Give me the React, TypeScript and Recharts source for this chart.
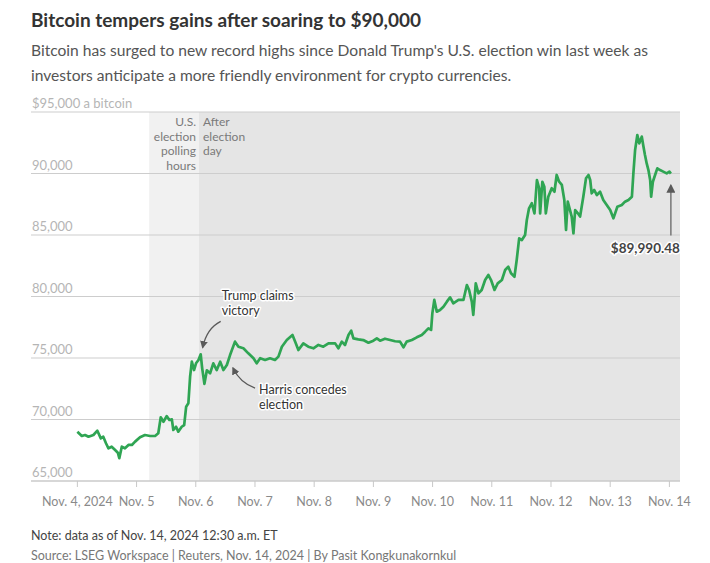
import React from 'react';
import { LineChart, Line, XAxis, YAxis, ReferenceArea, ReferenceLine, ReferenceDot } from 'recharts';

// hours after Nov. 4, 2024 00:00 ET
const hours = [
  0, 1.8, 3.1, 4.5, 6.5, 8.1, 9.5, 10.5, 11.6, 12.6, 13.9, 15.3, 16.4, 17.0, 18.0, 19.3, 20.7, 22.1, 23.4,
  25.4, 27.4, 29.5, 31.5, 32.8, 33.8, 34.9, 36.2, 37.3, 38.3, 38.9, 40.0, 40.9, 42.3, 43.3, 44.1, 45.0,
  45.7, 46.4, 47.3, 48.1, 49.1, 50.0, 50.6, 51.5, 52.5, 53.8, 55.1, 56.5, 57.9, 59.2, 60.6, 61.9, 63.9,
  65.3, 67.3, 69.3, 71.4, 72.7, 74.1, 76.1, 78.1, 80.1, 81.5, 82.9, 84.9, 87.2, 88.3, 89.6, 91.6, 93.6,
  95.7, 97.7, 99.7, 101.8, 104.5, 105.8, 107.2, 108.5, 109.9, 111.0, 111.9, 113.9, 115.9, 118.0, 120.0,
  121.4, 122.7, 124.7, 126.8, 128.8, 130.8, 132.2, 133.5, 135.6, 137.6, 139.6, 141.0, 142.3, 143.4, 143.9,
  144.7, 145.7, 147.0, 148.4, 149.8, 151.1, 152.4, 154.5, 156.5, 157.9, 158.8, 159.9, 160.5, 161.5, 162.6,
  163.9, 165.3, 166.6, 167.7, 169.1, 170.4, 172.1, 173.4, 174.7, 175.8, 177.2, 178.1, 179.1, 180.2, 181.5,
  182.2, 183.1, 184.2, 185.3, 186.3, 187.2, 187.6, 188.5, 189.3, 189.9, 190.9, 192.3, 193.4, 194.3, 195.3,
  196.4, 197.4, 198.1, 198.8, 199.7, 200.4, 201.1, 201.8, 202.9, 203.8, 205.1, 206.2, 207.2, 207.9, 208.5,
  209.5, 210.6, 211.9, 213.2, 214.6, 216.0, 217.3, 218.0, 218.9, 220.7, 222.0, 223.4, 224.8, 225.4, 226.1,
  227.0, 227.8, 228.8, 229.5, 230.1, 230.8, 231.5, 232.2, 232.6, 233.3, 234.2, 235.1, 236.2, 237.5, 238.9,
  240.0, 240.6,
];

const prices = [
  69010, 68660, 68740, 68600, 68740, 69090, 68470, 68600, 68070, 67660, 67790, 67520, 67300, 66850, 67790, 67660, 67930, 67930, 68200,
  68550, 68740, 68660, 68660, 68880, 70180, 69820, 70280, 69960, 70010, 69150, 69410, 69010, 69410, 69550, 71040, 71320,
  73480, 74700, 74020, 74570, 74840, 75300, 74160, 72900, 74000, 73750, 74570, 74020, 74700, 74020, 74430, 75240, 76330,
  75920, 75790, 75380, 74980, 74570, 74980, 74840, 74980, 74840, 75110, 75920, 76460, 76870, 76330, 75650, 76190, 75920,
  75790, 76060, 75920, 76190, 76190, 75790, 76330, 76060, 76870, 77220, 76600, 76520, 76460, 76240, 76410,
  76600, 76410, 76570, 76460, 76360, 76330, 75870, 76330, 76460, 76680, 76870, 77140, 77410, 77280, 78630,
  79720, 78760, 78900, 79170, 79580, 79930, 79450, 79720, 79720, 80930, 80530, 79580, 78500, 81070, 80260,
  80530, 81340, 81750, 81340, 80530, 81070, 81340, 82150, 82420, 81890, 81610, 82970, 84730, 84590, 85000,
  86220, 87170, 87580, 86760, 89470, 88800, 86760, 89330, 88930, 86760, 88110, 88800, 88520, 89880, 89330,
  89070, 87850, 85410, 87710, 87030, 86490, 85140, 87030, 86760, 86500, 88110, 89610, 89880, 89470, 88390,
  88660, 88250, 88520, 87850, 87440, 87030, 86360, 86760, 87300, 87440, 87710, 87850, 88110, 90010, 91910,
  93130, 92450, 93000, 92180, 91500, 90820, 90280, 89470, 88110, 89330, 89880, 90420, 90280, 90150, 90010,
  90150, 89990.48,
];

const dayTicks = [0, 24, 48, 72, 96, 120, 144, 168, 192, 216, 240];
const dayLabels = ['Nov. 4, 2024', 'Nov. 5', 'Nov. 6', 'Nov. 7', 'Nov. 8', 'Nov. 9', 'Nov. 10', 'Nov. 11', 'Nov. 12', 'Nov. 13', 'Nov. 14'];
const priceTicks = [65000, 70000, 75000, 80000, 85000, 90000, 95000];

const pollOpen = 29.1;
const pollClose = 49.3;
const xMin = -18.8;
const xMax = 244.3;

const data = hours.map((h, i) => ({ h, price: prices[i] }));

const FONT = "Lato, 'Noto Sans', sans-serif";
const GREEN = '#2fa553';

const halo = { stroke: '#fff', strokeWidth: 3, paintOrder: 'stroke' as const, strokeLinejoin: 'round' as const };

function gridLabel(text: string) {
  return (props: any) => {
    const { x, y } = props.viewBox;
    return (
      <text x={x + 1} y={y - 4} fill="#b5b5b5" fontSize={13} fontFamily={FONT}>
        {text}
      </text>
    );
  };
}

function pollLabel(props: any) {
  const { x, y, width } = props.viewBox;
  const lines = ['U.S.', 'election', 'polling', 'hours'];
  return (
    <text x={x + width - 3} y={y + 14} textAnchor="end" fill="#7a7a7a" fontSize={12} fontFamily={FONT}>
      {lines.map((l, i) => (
        <tspan key={l} x={x + width - 3} dy={i === 0 ? 0 : 14.7}>{l}</tspan>
      ))}
    </text>
  );
}

function afterLabel(props: any) {
  const { x, y } = props.viewBox;
  const lines = ['After', 'election', 'day'];
  return (
    <text x={x + 4} y={y + 14} fill="#7a7a7a" fontSize={12} fontFamily={FONT}>
      {lines.map((l, i) => (
        <tspan key={l} x={x + 4} dy={i === 0 ? 0 : 14.7}>{l}</tspan>
      ))}
    </text>
  );
}

function marker(id: string) {
  return (
    <defs>
      <marker id={id} viewBox="0 0 10 10" refX="8" refY="5" markerWidth="6" markerHeight="6" orient="auto">
        <path d="M0,0 L10,5 L0,10 z" fill="#5a5a5a" />
      </marker>
    </defs>
  );
}

function TrumpNote(p: any) {
  const { cx, cy } = p;
  return (
    <g>
      {marker('ah-trump')}
      <path d={`M${cx + 20},${cy - 33} Q${cx + 6},${cy - 26} ${cx + 2},${cy - 7}`} stroke="#5a5a5a" strokeWidth={1.3} fill="none" markerEnd="url(#ah-trump)" />
      <text x={cx + 21} y={cy - 54} fill="#333" fontSize={12.5} fontFamily={FONT} style={halo}>
        <tspan x={cx + 21}>Trump claims</tspan>
        <tspan x={cx + 21} dy={15}>victory</tspan>
      </text>
    </g>
  );
}

function HarrisNote(p: any) {
  const { cx, cy } = p;
  return (
    <g>
      {marker('ah-harris')}
      <path d={`M${cx + 25},${cy + 33} Q${cx + 10},${cy + 28} ${cx + 3},${cy + 13}`} stroke="#5a5a5a" strokeWidth={1.3} fill="none" markerEnd="url(#ah-harris)" />
      <text x={cx + 29} y={cy + 39} fill="#333" fontSize={12.5} fontFamily={FONT} style={halo}>
        <tspan x={cx + 29}>Harris concedes</tspan>
        <tspan x={cx + 29} dy={15}>election</tspan>
      </text>
    </g>
  );
}

function LastNote(p: any) {
  const { cx, cy } = p;
  return (
    <g>
      {marker('ah-last')}
      <path d={`M${cx},${cy + 62} L${cx},${cy + 12}`} stroke="#777" strokeWidth={1.5} fill="none" markerEnd="url(#ah-last)" />
      <text x={cx + 9} y={cy + 79} textAnchor="end" fill="#444" fontSize={13.5} fontWeight={700} fontFamily={FONT} style={halo}>
        $89,990.48
      </text>
    </g>
  );
}

function XTick(props: any) {
  const { x, y, payload } = props;
  const i = dayTicks.indexOf(payload.value);
  return (
    <text x={x} y={y + 17} textAnchor="middle" fill="#8a8a8a" fontSize={12.5} fontFamily={FONT}>
      {dayLabels[i]}
    </text>
  );
}

export default function App() {
  return (
    <div style={{ position: 'absolute', left: 0, top: 0, width: 710, height: 563, background: '#fff', fontFamily: FONT }}>
      <div style={{ position: 'absolute', left: 31, top: 8, fontSize: 19, fontWeight: 700, color: '#333' }}>
        Bitcoin tempers gains after soaring to $90,000
      </div>
      <div style={{ position: 'absolute', left: 31, top: 38, width: 660, fontSize: 15.6, lineHeight: '25px', color: '#555' }}>
        Bitcoin has surged to new record highs since Donald Trump's U.S. election win last week as<br />
        investors anticipate a more friendly environment for crypto currencies.
      </div>
      <div style={{ position: 'absolute', left: 0, top: 0 }}>
        <LineChart width={710} height={520} data={data} margin={{ top: 112, right: 30, bottom: 9, left: 31 }}>
          <XAxis
            dataKey="h"
            type="number"
            domain={[xMin, xMax]}
            ticks={dayTicks}
            interval={0}
            allowDataOverflow
            height={30}
            stroke="#c8c8c8"
            tickLine={{ stroke: '#c8c8c8' }}
            tickSize={6}
            tick={<XTick />}
          />
          <YAxis hide domain={[65000, 95000]} ticks={priceTicks} allowDataOverflow />
          <ReferenceArea x1={pollOpen} x2={pollClose} y1={65000} y2={95000} fill="#f1f1f1" fillOpacity={1} stroke="none" label={pollLabel} />
          <ReferenceArea x1={pollClose} x2={xMax} y1={65000} y2={95000} fill="#e5e5e5" fillOpacity={1} stroke="none" label={afterLabel} />
          {priceTicks.map((t) => (
            <ReferenceLine
              key={t}
              y={t}
              stroke="#cdcdcd"
              strokeWidth={1}
              label={gridLabel(t === 95000 ? '$95,000 a bitcoin' : t.toLocaleString('en-US'))}
            />
          ))}
          <Line type="linear" dataKey="price" stroke={GREEN} strokeWidth={2.7} strokeLinejoin="round" dot={false} isAnimationActive={false} />
          <ReferenceDot x={hours[41]} y={prices[41]} r={0} shape={TrumpNote} ifOverflow="visible" />
          <ReferenceDot x={hours[51]} y={prices[51]} r={0} shape={HarrisNote} ifOverflow="visible" />
          <ReferenceDot x={hours[hours.length - 1]} y={prices[prices.length - 1]} r={0} shape={LastNote} ifOverflow="visible" />
        </LineChart>
      </div>
      <div style={{ position: 'absolute', left: 31, top: 528, fontSize: 12.5, color: '#444' }}>
        Note: data as of Nov. 14, 2024 12:30 a.m. ET
      </div>
      <div style={{ position: 'absolute', left: 31, top: 548, fontSize: 12.5, color: '#777' }}>
        Source: LSEG Workspace | Reuters, Nov. 14, 2024 | By Pasit Kongkunakornkul
      </div>
    </div>
  );
}
